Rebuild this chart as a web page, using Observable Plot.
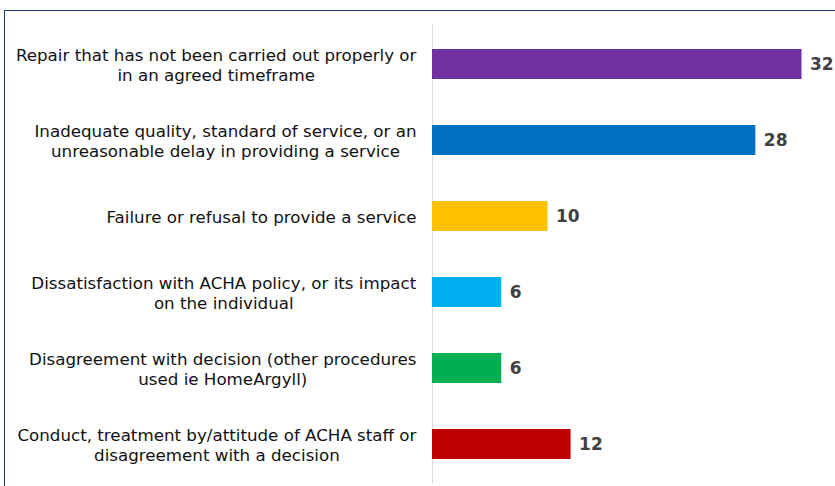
<!DOCTYPE html>
<html>
<head>
<meta charset="utf-8">
<script src="https://cdn.jsdelivr.net/npm/d3@7"></script>
<script src="https://cdn.jsdelivr.net/npm/@observablehq/plot@0.6"></script>
<style>
  html, body { margin: 0; padding: 0; background: #fff; overflow: hidden; }
  #wrap { position: relative; width: 835px; height: 486px; }
  #frame { position: absolute; left: 4px; top: 10px; width: 900px; height: 600px; border: 1px solid #1f3a70; pointer-events: none; }
  #chart svg { display: block; }
</style>
</head>
<body>
<div id="wrap"><div id="chart"></div><div id="frame"></div></div>
<script>
const categories = [
  "Repair that has not been carried out properly or\nin an agreed timeframe",
  "Inadequate quality, standard of service, or an\nunreasonable delay in providing a service",
  "Failure or refusal to provide a service",
  "Dissatisfaction with ACHA policy, or its impact\non the individual",
  "Disagreement with decision (other procedures\nused ie HomeArgyll)",
  "Conduct, treatment by/attitude of ACHA staff or\ndisagreement with a decision"
];
const values = [32, 28, 10, 6, 6, 12];
const colors = ["#7030A0", "#0070C0", "#FFC000", "#00B0F0", "#00B050", "#C00000"];

const data = categories.map((c, i) => ({category: c, value: values[i], color: colors[i]}));

const chart = Plot.plot({
  width: 835,
  height: 486,
  marginLeft: 432,
  marginRight: 0,
  marginTop: 24.7,
  marginBottom: 2.9,
  style: {fontFamily: "DejaVu Sans, Verdana, sans-serif", background: "#fff"},
  x: {domain: [0, 34.9], axis: null},
  y: {domain: categories, axis: null, paddingInner: 0.61, paddingOuter: 0.305},
  marks: [
    Plot.ruleX([0], {stroke: "#d9d9d9", strokeWidth: 1}),
    Plot.barX(data, {x: "value", y: "category", fill: "color"}),
    Plot.text(data, {
      x: "value", y: "category", text: d => String(d.value),
      textAnchor: "start", dx: 8, fontWeight: "bold", fontSize: 17, fill: "#404040"
    }),
    Plot.text(data, {
      y: "category", text: "category", frameAnchor: "left", dx: -16,
      textAnchor: "middle", lineAnchor: "middle", lineHeight: 1.2,
      fontSize: 16.7, fill: "#111"
    })
  ]
});
document.getElementById("chart").appendChild(chart);

// Right-align each label block while keeping its lines centred within the block
const flat = new Set(categories.map(c => c.replace(/\n/g, "")));
chart.querySelectorAll("text").forEach(t => {
  if (!flat.has(t.textContent.replace(/\n/g, ""))) return;
  const w = t.getBBox().width;
  const tr = t.getAttribute("transform") || "";
  t.setAttribute("transform", (tr + ` translate(${-w / 2},0)`).trim());
});
</script>
</body>
</html>
